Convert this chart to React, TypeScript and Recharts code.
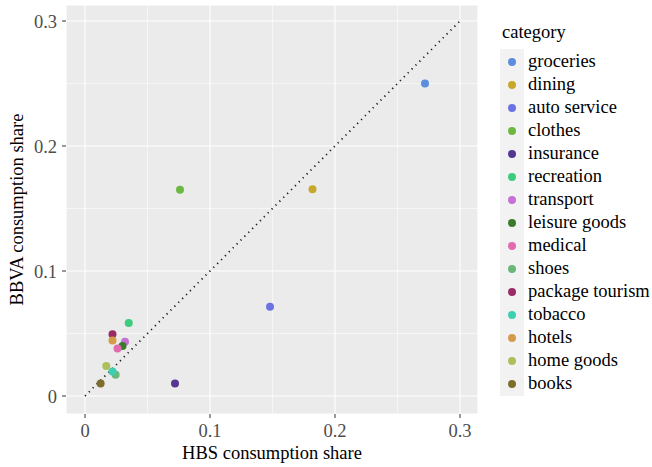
import React from 'react';
import { ScatterChart, Scatter, XAxis, YAxis, CartesianGrid, ReferenceLine } from 'recharts';

const categories = [
  'groceries', 'dining', 'auto service', 'clothes', 'insurance',
  'recreation', 'transport', 'leisure goods', 'medical', 'shoes',
  'package tourism', 'tobacco', 'hotels', 'home goods', 'books',
];
const hbsShare = [
  0.272, 0.182, 0.148, 0.076, 0.072,
  0.035, 0.032, 0.030, 0.026, 0.0245,
  0.022, 0.022, 0.022, 0.017, 0.0125,
];
const bbvaShare = [
  0.250, 0.1655, 0.0715, 0.165, 0.010,
  0.0585, 0.0435, 0.040, 0.038, 0.017,
  0.0495, 0.0197, 0.0445, 0.024, 0.010,
];
const colors = [
  '#5B8EDC', '#C8A82C', '#6C72E2', '#6DB843', '#553792',
  '#3DCB7E', '#C670D6', '#3C7A2B', '#E06BAF', '#6BB679',
  '#9A2B66', '#3DCFB1', '#D49C4A', '#ADBF5B', '#7E6E2B',
];
const majorTicks = [0, 0.1, 0.2, 0.3];
const minorTicks = [0.05, 0.15, 0.25];

const FONT = "'Liberation Serif', 'Times New Roman', serif";

const Dot = (props: any) => (
  <circle cx={props.cx} cy={props.cy} r={4} fill={props.fill} />
);

const YTitle = (props: any) => {
  const { viewBox } = props;
  const cx = viewBox.x + 17;
  const cy = viewBox.y + viewBox.height / 2;
  return (
    <text x={cx} y={cy} transform={`rotate(-90, ${cx}, ${cy})`} textAnchor="middle"
      dominantBaseline="central" fontSize={18.5} fontFamily={FONT} fill="#000">
      BBVA consumption share
    </text>
  );
};

const XTitle = (props: any) => {
  const { viewBox } = props;
  return (
    <text x={viewBox.x + viewBox.width / 2} y={viewBox.y + 39} textAnchor="middle"
      dominantBaseline="central" fontSize={18.5} fontFamily={FONT} fill="#000">
      HBS consumption share
    </text>
  );
};

// legend drawn beside the chart so it doesn't shrink the panel
const CategoryLegend = () => (
  <div style={{ position: 'absolute', left: 500, top: 22, fontFamily: FONT, color: '#000' }}>
    <div style={{ fontSize: 18.5, lineHeight: '20px', marginBottom: 7, marginLeft: 2 }}>category</div>
    <div style={{ display: 'flex' }}>
      <div style={{ background: '#F2F2F2', width: 24, paddingTop: 1, paddingBottom: 1 }}>
        {categories.map((c, i) => (
          <div key={c} style={{ height: 23, display: 'flex', alignItems: 'center', justifyContent: 'center' }}>
            <div style={{ width: 8, height: 8, borderRadius: 4, background: colors[i] }} />
          </div>
        ))}
      </div>
      <div style={{ paddingTop: 1, marginLeft: 4 }}>
        {categories.map((c) => (
          <div key={c} style={{ height: 23, fontSize: 18.5, lineHeight: '23px', whiteSpace: 'nowrap' }}>{c}</div>
        ))}
      </div>
    </div>
  </div>
);

export default function App() {
  return (
    <div style={{ position: 'absolute', left: 0, top: 0, width: 652, height: 467, background: '#fff', fontFamily: FONT }}>
      <ScatterChart width={652} height={467} margin={{ top: 5, right: 174, bottom: 0, left: 0 }}>
        <CartesianGrid fill="#EBEBEB" stroke="#FFFFFF" strokeWidth={1.1} />
        {minorTicks.map((t) => (
          <ReferenceLine key={'mx' + t} x={t} stroke="#FFFFFF" strokeWidth={0.55} />
        ))}
        {minorTicks.map((t) => (
          <ReferenceLine key={'my' + t} y={t} stroke="#FFFFFF" strokeWidth={0.55} />
        ))}
        <XAxis type="number" dataKey="x" domain={[-0.0152, 0.3144]} ticks={majorTicks}
          tickFormatter={(v: number) => String(v)} height={53} axisLine={false}
          tickSize={4} tickMargin={6} tickLine={{ stroke: '#333333' }}
          tick={{ fill: '#4D4D4D', fontSize: 18.5, fontFamily: FONT }}
          label={<XTitle />} allowDataOverflow />
        <YAxis type="number" dataKey="y" domain={[-0.0144, 0.3128]} ticks={majorTicks}
          tickFormatter={(v: number) => String(v)} width={66} axisLine={false}
          tickSize={4} tickMargin={5} tickLine={{ stroke: '#333333' }}
          tick={{ fill: '#4D4D4D', fontSize: 18.5, fontFamily: FONT }}
          label={<YTitle />} allowDataOverflow />
        <ReferenceLine segment={[{ x: 0, y: 0 }, { x: 0.3, y: 0.3 }]} stroke="#1A1A1A"
          strokeWidth={1.8} strokeDasharray="1.2 4.3" />
        {categories.map((c, i) => (
          <Scatter key={c} name={c} data={[{ x: hbsShare[i], y: bbvaShare[i] }]}
            fill={colors[i]} shape={<Dot />} isAnimationActive={false} />
        ))}
      </ScatterChart>
      <CategoryLegend />
    </div>
  );
}
